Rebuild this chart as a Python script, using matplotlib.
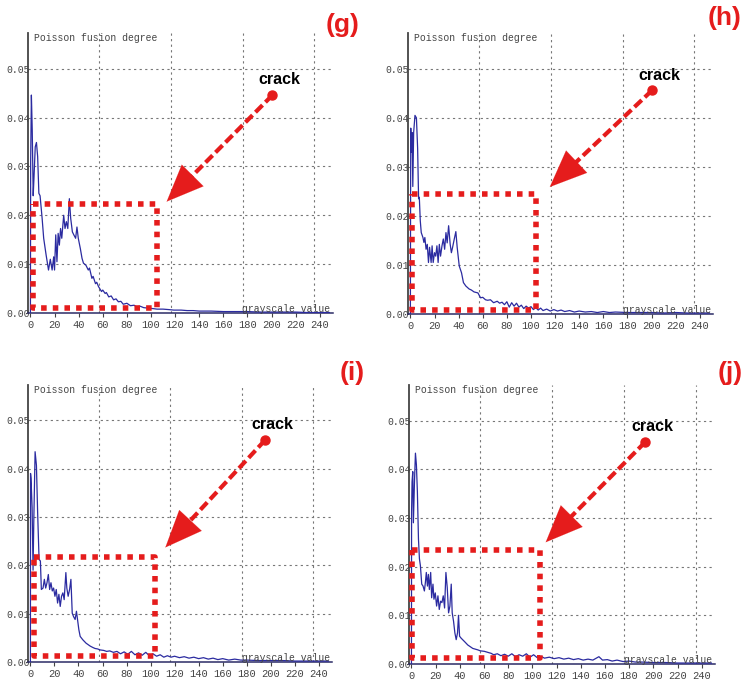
import matplotlib
matplotlib.use('Agg')
import matplotlib.pyplot as plt

# grayscale value / Poisson fusion degree
g_x = [0, 0.2, 0.8, 1.5, 2.3, 3, 4, 5, 6, 7, 8, 9.7, 11, 13, 15, 16.5, 18, 19.3, 20, 21, 22, 23, 24, 25, 26,
       27.6, 28.7, 29.8, 31, 32.3, 33.4, 34.8, 36, 37.5, 38.6, 39.7, 41.4, 42.8, 44, 46, 48, 49, 51, 52, 54, 55,
       56.5, 59, 60, 62, 63, 65, 67, 69, 71, 73, 75, 77, 80, 83, 86, 88, 91, 94, 98, 102, 105, 110, 115, 119,
       125, 130, 135, 140, 150, 160, 170, 180, 190, 200, 210, 220, 230, 240, 248]
g_y = [0.0, 0.031, 0.0446, 0.0375, 0.024, 0.028, 0.034, 0.0349, 0.032, 0.0245, 0.024, 0.0194, 0.0153, 0.0119,
       0.0088, 0.011, 0.0088, 0.0115, 0.0088, 0.016, 0.0105, 0.0163, 0.0139, 0.0173, 0.0153, 0.020, 0.0173,
       0.0187, 0.0173, 0.0234, 0.0194, 0.0166, 0.016, 0.0153, 0.0176, 0.0153, 0.0132, 0.0112, 0.0102, 0.0098,
       0.0088, 0.0092, 0.0071, 0.0075, 0.006, 0.0063, 0.0054, 0.0044, 0.0047, 0.004, 0.0042, 0.0033, 0.0035,
       0.0027, 0.0029, 0.0023, 0.0024, 0.0018, 0.002, 0.0015, 0.0016, 0.0013, 0.0014, 0.0011, 0.001, 0.0009,
       0.0008, 0.0008, 0.0007, 0.0006, 0.0006, 0.0005, 0.0005, 0.0004, 0.0004, 0.0003, 0.0003, 0.0003, 0.0002,
       0.0002, 0.0002, 0.0002, 0.0001, 0.0001, 0.0001]

h_x = [0, 0.1, 0.3, 0.8, 1.4, 2, 2.7, 3.8, 5, 6, 6.8, 7.4, 8.2, 9, 10.4, 11.2, 12, 13, 14, 15, 15.9, 17.2, 18,
       18.9, 20, 21, 22, 23, 24, 25, 26.2, 27.3, 28.4, 29.5, 30.5, 31.7, 33, 34, 35, 36.4, 37.7, 38.8, 40.5,
       42.4, 44, 46, 48.7, 50.5, 52.8, 56, 58.2, 60, 62.3, 64, 66.4, 69, 72, 74, 76, 78, 80, 82, 84, 86, 88, 90,
       92, 94, 96, 98, 100, 102, 104, 106, 108, 110, 113, 116, 119, 122, 125, 128, 132, 136, 140, 145, 150, 155,
       160, 165, 170, 180, 190, 200, 210, 220, 230, 240, 248]
h_y = [0.0, 0.0166, 0.0379, 0.033, 0.037, 0.026, 0.037, 0.0405, 0.040, 0.0338, 0.0235, 0.0238, 0.019, 0.0166,
       0.0156, 0.0146, 0.0156, 0.0132, 0.0142, 0.0105, 0.0136, 0.0105, 0.0139, 0.0105, 0.0125, 0.0118, 0.0139,
       0.0105, 0.0142, 0.0118, 0.0139, 0.0153, 0.0132, 0.0166, 0.0145, 0.018, 0.0142, 0.0125, 0.0136, 0.0153,
       0.0168, 0.0136, 0.0098, 0.0084, 0.0064, 0.0057, 0.0051, 0.0049, 0.0045, 0.0043, 0.0033, 0.0034, 0.0029,
       0.0028, 0.0029, 0.0023, 0.0026, 0.0022, 0.0024, 0.0019, 0.0025, 0.0014, 0.0023, 0.0016, 0.0022, 0.0014,
       0.0018, 0.0011, 0.0016, 0.0012, 0.0015, 0.0009, 0.0013, 0.0008, 0.0012, 0.0007, 0.001, 0.0006, 0.0009,
       0.0006, 0.0008, 0.0005, 0.0007, 0.0004, 0.0006, 0.0004, 0.0005, 0.0003, 0.0005, 0.0003, 0.0004, 0.0003,
       0.0003, 0.0003, 0.0002, 0.0003, 0.0002, 0.0002, 0.0002]

i_x = [0, 0.1, 0.5, 1.4, 2.2, 2.8, 3.9, 5, 6, 7.2, 8.3, 9.1, 10.5, 11.6, 12.7, 13.8, 14.9, 16, 17.1, 18.2, 19.3,
       20.4, 21.5, 22.6, 23.7, 24.8, 25.9, 27, 28.1, 29.5, 30.3, 31.4, 32.6, 33.7, 34.8, 35.9, 37.2, 38.3, 39.2,
       40.3, 41.4, 43.6, 46.3, 49.7, 52, 53.8, 56, 58, 61, 63.4, 66, 69, 72, 75, 78, 81, 84, 87, 90, 93, 96, 99,
       102, 105, 108, 111, 114, 117, 120, 124, 128, 132, 136, 140, 144, 148, 152, 156, 160, 165, 170, 175, 180,
       190, 200, 210, 220, 230, 240, 248]
i_y = [0.0, 0.039, 0.038, 0.032, 0.019, 0.029, 0.0435, 0.0407, 0.031, 0.0212, 0.0209, 0.015, 0.0153, 0.0171,
       0.0153, 0.0164, 0.0181, 0.015, 0.0164, 0.0147, 0.0153, 0.0136, 0.015, 0.0122, 0.014, 0.0115, 0.0136,
       0.0143, 0.0129, 0.0185, 0.0153, 0.0136, 0.015, 0.0171, 0.0101, 0.0094, 0.0088, 0.0105, 0.0088, 0.0067,
       0.0053, 0.0046, 0.0039, 0.0033, 0.003, 0.0028, 0.0027, 0.0025, 0.0024, 0.0022, 0.0023, 0.002, 0.0022,
       0.0017, 0.0021, 0.0016, 0.0022, 0.0015, 0.0019, 0.0014, 0.002, 0.0013, 0.0017, 0.0012, 0.0015, 0.001,
       0.0013, 0.001, 0.0012, 0.0009, 0.0011, 0.0008, 0.001, 0.0007, 0.0009, 0.0006, 0.0008, 0.0005, 0.0007,
       0.0004, 0.0006, 0.0004, 0.0004, 0.0003, 0.0003, 0.0003, 0.0002, 0.0002, 0.0002, 0.0002]

j_x = [0, 0.1, 0.5, 1.1, 1.6, 2.5, 3.3, 4.1, 4.9, 5.8, 6.6, 7.4, 8.5, 9.6, 10.7, 11.5, 12.3, 13.2, 14, 14.8,
       15.9, 16.7, 17.8, 18.6, 19.7, 20.8, 21.9, 23, 24.1, 25.2, 26.3, 27.4, 28.5, 29.6, 30.7, 31.8, 32.9, 33.7,
       34.8, 35.9, 37, 38.1, 38.9, 39.8, 41.1, 43.9, 46.6, 50.7, 54.9, 57, 60.3, 63, 65.8, 68, 71, 74, 77, 80,
       83, 86, 89, 92, 95, 98, 101, 104, 107, 110, 114, 118, 122, 126, 130, 134, 138, 142, 146, 150, 155, 158,
       162, 166, 170, 175, 180, 185, 190, 200, 210, 220, 230, 240, 248]
j_y = [0.0, 0.0312, 0.0374, 0.0395, 0.029, 0.0374, 0.0433, 0.0409, 0.0354, 0.0257, 0.0216, 0.0202, 0.0164,
       0.016, 0.015, 0.0167, 0.0188, 0.016, 0.0184, 0.0153, 0.0188, 0.0136, 0.0164, 0.0133, 0.0146, 0.0119,
       0.014, 0.0112, 0.0129, 0.0126, 0.014, 0.0115, 0.0188, 0.0157, 0.0105, 0.0119, 0.0164, 0.0105, 0.0088,
       0.0064, 0.005, 0.0064, 0.01, 0.0057, 0.0053, 0.0046, 0.0039, 0.0032, 0.0029, 0.0027, 0.0026, 0.0024,
       0.0022, 0.0019, 0.0021, 0.0017, 0.002, 0.0016, 0.0021, 0.0015, 0.0019, 0.0016, 0.0021, 0.0014, 0.0019,
       0.0013, 0.0016, 0.0012, 0.0014, 0.0011, 0.0013, 0.001, 0.0012, 0.0009, 0.0011, 0.0008, 0.001, 0.0008,
       0.0015, 0.0008, 0.0009, 0.0006, 0.0008, 0.0005, 0.0006, 0.0004, 0.0004, 0.0003, 0.0003, 0.0002, 0.0002,
       0.0002, 0.0002]

panel_labels = ['(g)', '(h)', '(i)', '(j)']
# dashed box (x0, x1, y0, y1), crack dot (x, y), arrow tip (x, y)
boxes = [(1.9, 105.4, 0.0011, 0.0223), (1.6, 103.9, 0.0009, 0.0244),
         (2.8, 104.0, 0.0012, 0.0218), (0.5, 106.0, 0.0012, 0.0235)]
dots = [(200.8, 0.0446), (200.4, 0.0456), (195.3, 0.0459), (193.4, 0.0456)]
tips = [(113.0, 0.0228), (115.6, 0.0259), (112.3, 0.0237), (111.0, 0.025)]

xticks = list(range(0, 241, 20))
yticks = [0.0, 0.01, 0.02, 0.03, 0.04, 0.05]
ytick_labels = ['0.00', '0.01', '0.02', '0.03', '0.04', '0.05']
vgrid = [57, 116.5, 176, 235.5]

mono = 'Liberation Mono'
red = '#e51c1c'
navy = '#2b2ba0'

fig = plt.figure(figsize=(7.49, 6.82), dpi=100)
rects = [[0.0374, 0.541, 0.4072, 0.4106], [0.5447, 0.5396, 0.4073, 0.4120],
         [0.0374, 0.0293, 0.4059, 0.4062], [0.5461, 0.0264, 0.4085, 0.4091]]
label_pos = [(0.457, 0.963), (0.968, 0.973), (0.470, 0.453), (0.975, 0.453)]
xs = [g_x, h_x, i_x, j_x]
ys = [g_y, h_y, i_y, j_y]

for k in range(4):
    ax = fig.add_axes(rects[k])
    ax.plot(xs[k], ys[k], color=navy, linewidth=0.9, zorder=3)
    ax.set_xlim(-2, 251)
    ax.set_ylim(0, 0.0573)

    for gx in vgrid:
        ax.axvline(gx, color='#777777', linewidth=0.8, linestyle=(0, (2, 3)), zorder=1)
    for gy in yticks[1:]:
        ax.axhline(gy, color='#777777', linewidth=0.8, linestyle=(0, (2, 3)), zorder=1)

    ax.spines['top'].set_visible(False)
    ax.spines['right'].set_visible(False)
    ax.spines['left'].set_color('#444444')
    ax.spines['left'].set_linewidth(1.3)
    ax.spines['bottom'].set_color('#2b2b66')
    ax.spines['bottom'].set_linewidth(1.1)

    ax.set_xticks(xticks)
    ax.set_xticklabels([str(t) for t in xticks], fontfamily=mono, fontsize=7.5, color='#444444')
    ax.set_yticks(yticks)
    ax.set_yticklabels(ytick_labels, fontfamily=mono, fontsize=7, color='#444444')
    ax.tick_params(axis='x', length=3, width=0.8, color='#444444', pad=2)
    ax.tick_params(axis='y', length=0, pad=-1)

    ax.text(2.8, 0.0563, 'Poisson fusion degree', fontfamily=mono, fontsize=7,
            color='#444444', va='center', ha='left')
    ax.text(249, -0.0002, 'grayscale value', fontfamily=mono, fontsize=7,
            color='#444444', va='bottom', ha='right')

    # red dotted box round the crack region
    x0, x1, y0, y1 = boxes[k]
    ax.plot([x0, x1, x1, x0, x0], [y1, y1, y0, y0, y1], color=red, linewidth=4,
            linestyle=(0, (1, 1.1)), solid_capstyle='butt', dash_capstyle='butt', zorder=4)

    # crack marker and dashed arrow
    dx, dy = dots[k]
    tx, ty = tips[k]
    ax.plot([dx, tx + (dx - tx) * 0.2], [dy, ty + (dy - ty) * 0.2], color=red, linewidth=3,
            linestyle=(0, (2.4, 1)), dash_capstyle='butt', zorder=5)
    ax.annotate('', xy=(tx, ty), xytext=(tx + (dx - tx) * 0.22, ty + (dy - ty) * 0.22),
                arrowprops=dict(arrowstyle='-|>,head_length=1.2,head_width=0.5', color=red,
                                linewidth=0.1, mutation_scale=22, shrinkA=0, shrinkB=0), zorder=5)
    ax.plot(dx, dy, 'o', color=red, markersize=6.5, zorder=6)
    ax.text(dx + 6, dy + 0.0016, 'crack', fontfamily='Liberation Sans', fontweight='bold',
            fontsize=11.5, color='black', ha='center', va='bottom', zorder=6)

    fig.text(label_pos[k][0], label_pos[k][1], panel_labels[k], fontfamily='Liberation Sans',
             fontweight='bold', fontsize=19, color=red, ha='center', va='center')

plt.savefig('out.png', dpi=100)
